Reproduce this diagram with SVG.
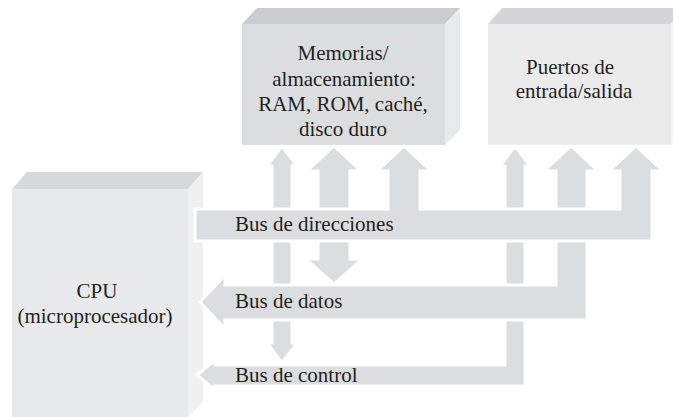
<svg xmlns="http://www.w3.org/2000/svg" width="673" height="417" viewBox="0 0 673 417">
<style>
text{font-family:"Liberation Serif","Times New Roman",serif;font-size:21px;fill:#231f20}
.c{text-anchor:middle}
.bus{fill:#dcdddf;stroke:#ffffff;stroke-width:3;stroke-linejoin:miter}
</style>
<rect width="673" height="417" fill="#ffffff"/>
<g id="cpu">
<rect x="12" y="189" width="176" height="228" fill="#e8e9ea"/>
<polygon points="12,189 27,172 203,172 188,189" fill="#d7d8da"/>
<polygon points="188,189 203,172 203,402 188,417" fill="#f0f0f1"/>
<text class="c" x="97" y="298">CPU</text>
<text class="c" x="95" y="323">(microprocesador)</text>
</g>
<g id="memoria">
<rect x="242" y="24" width="203" height="121" fill="#dcdddf"/>
<polygon points="242,24 257,8 460,8 445,24" fill="#cbcccf"/>
<polygon points="445,24 460,8 460,130 445,145" fill="#e9eaeb"/>
<text class="c" x="343" y="60">Memorias/</text>
<text class="c" x="344" y="86">almacenamiento:</text>
<text class="c" x="343" y="111">RAM, ROM, caché,</text>
<text class="c" x="343" y="136">disco duro</text>
</g>
<g id="puertos">
<rect x="488" y="24" width="183" height="121" fill="#ebebec"/>
<polygon points="488,24 502,8 690,8 671,24" fill="#d5d6d8"/>
<polygon points="671,24 686,8 686,130 671,145" fill="#f4f4f5"/>
<text class="c" x="570" y="74">Puertos de</text>
<text class="c" x="574" y="98">entrada/salida</text>
</g>
<g id="connectors">
<polygon id="ctrl-mem" class="bus" points="282,146 297,166 292,166 292,343 297,343 282,363 267,343 272,343 272,166 267,166"/>
<polygon id="bus-control" class="bus" points="197,375 215,360 215,365 505,365 505,166 500,166 515,146 530,166 525,166 525,386 215,386 215,390"/>
<polygon id="datos-mem" class="bus" points="334,146 361,171 350,171 350,259 362,259 334,284 306,259 318,259 318,171 307,171"/>
<polygon id="bus-datos" class="bus" points="200,302 225,275 225,285 556,285 556,171 544,171 571,146 598,171 587,171 587,320 225,320 225,329"/>
<polygon id="bus-direcciones" class="bus" points="195,209 388,209 388,171 377,171 404,146 431,171 420,171 420,209 620,209 620,171 609,171 636,146 663,171 652,171 652,241 195,241"/>
<text x="235" y="231">Bus de direcciones</text>
<text x="235" y="308">Bus de datos</text>
<text x="235" y="382">Bus de control</text>
</g>
</svg>
